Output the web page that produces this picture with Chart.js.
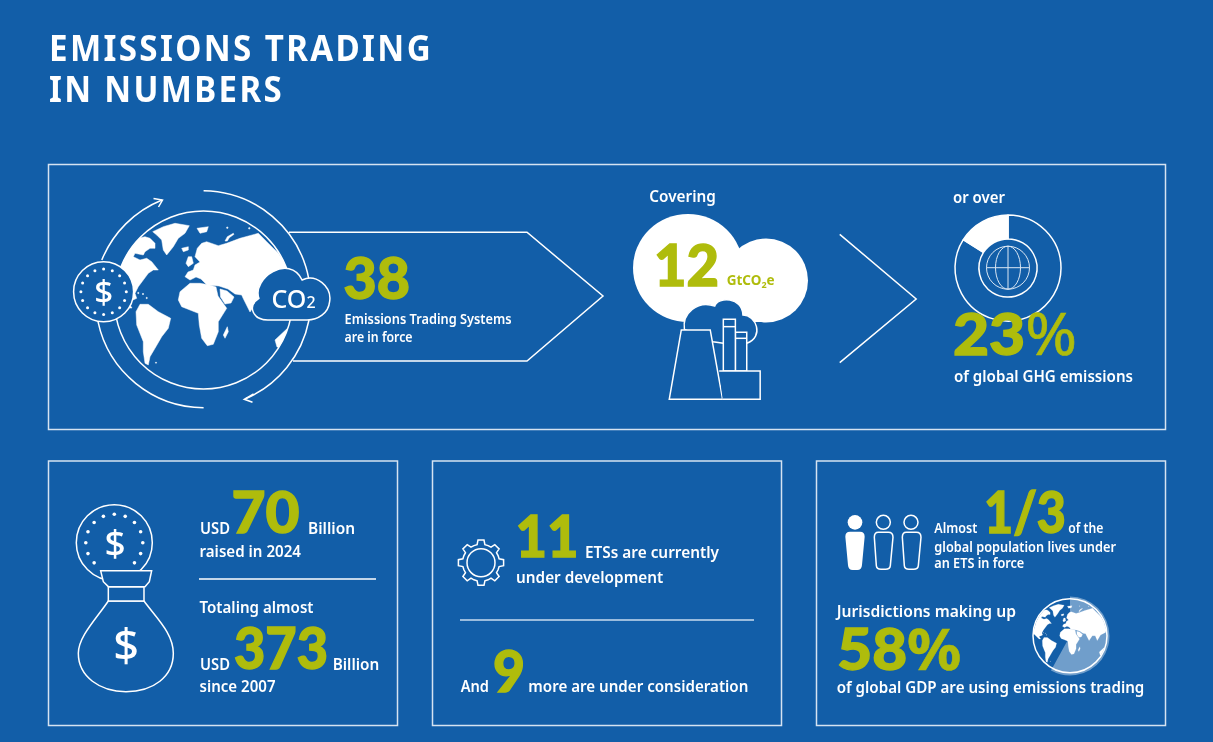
<!DOCTYPE html>
<html>
<head>
<meta charset="utf-8">
<title>Emissions trading in numbers</title>
<script src="https://cdn.jsdelivr.net/npm/chart.js@4"></script>
<style>
html, body { margin: 0; padding: 0; background: #125ea8; overflow: hidden; }
#page { position: relative; width: 1213px; height: 742px; }
canvas { position: absolute; }
#art { position: absolute; left: 0; top: 0; }
.ln { fill: none; stroke: #fff; stroke-width: 1.5; vector-effect: non-scaling-stroke; }
.bg { fill: #125ea8; stroke: #fff; stroke-width: 1.5; vector-effect: non-scaling-stroke; }
.box { fill: none; stroke: #d5e3f1; stroke-width: 1.5; }
</style>
</head>
<body>
<div id="page">
<canvas id="ringChart" width="120" height="120" style="left:948px;top:208px"></canvas>
<canvas id="gdpChart" width="90" height="90" style="left:1025px;top:591px"></canvas>
<svg id="art" width="1213" height="742" xmlns="http://www.w3.org/2000/svg">
  <defs>
    <clipPath id="bigClip"><circle cx="203.5" cy="300" r="89"/></clipPath>
    <clipPath id="smallClip"><circle cx="1070" cy="635.7" r="36.5"/></clipPath>
    <g id="worldMap" fill="#fff" stroke="#fff" stroke-width=".5" stroke-linejoin="round">
      <path d="M152.7,231.7 L163.3,226.7 L175,223.3 L189.3,225.7 L185,233.3 L178.3,238.3 L173.3,246.7 L166.7,255 L163.3,250 L161.7,240 L156.7,235 Z"/>
      <path d="M120,263.3 L126.7,251.7 L135,241.7 L138.3,238.3 L145,236.7 L150,238.3 L155,243.3 L155,248.3 L150,248.3 L145,251.7 L143.3,255 L135,253.3 L133.3,256.7 L140,260 L146.7,258.3 L151.7,261.7 L158.3,270 L153.3,270 L148.3,273.3 L143.3,280 L138.3,286.7 L135,293.3 L136.7,298.3 L133,300 L128,302 L132,308 L128,308 L120,300 L110,290 L106,275 L112,262 Z"/>
      <path d="M136,311.7 L140,304.3 L148.3,304.3 L158.3,311.7 L170.7,318.3 L168.3,328.3 L161.7,336.7 L155,348.3 L150,356.7 L148.3,365 L145,363.3 L143.3,351.7 L143.3,341.7 L136.7,325 Z"/>
      <path d="M180,291.7 L190,283.3 L200,283.3 L210,285 L216,287 L218,296 L226.7,308.3 L218.3,321.7 L218.3,331.7 L213.3,344.3 L207.3,345.7 L201.7,338.3 L199.3,325 L198.3,313.3 L190,310 L181.7,306.7 L178.3,300 Z"/>
      <path d="M185,276.7 L188,272 L193.3,270 L195,265 L200,262 L195,256.7 L197.3,248.3 L201.7,243.3 L206.7,241.7 L218.3,245.7 L226.7,243.3 L240,238.3 L258.3,233.3 L266.7,241.7 L278.3,253.3 L286.7,265 L294,280 L290,292 L278,298 L270,312 L265,300 L258,300 L250,312 L243,298 L241.7,295 L235,294 L228,289 L219,286 L207,285 L201,279 L196,277 L190,280 Z"/>
      <path d="M220,289 L227,291 L234,297 L231,303 L225,304 L220.5,297 Z"/>
      <path d="M223.3,335 L227.3,326.7 L228.3,331.7 L225,338.3 Z"/>
      <path d="M275,340 L287.5,328.3 L300,327 L305,340 L293,350 L277,347 Z"/>
      <path d="M188.3,256.7 L191.7,256.7 L193.3,263.3 L188.3,266.7 L186,263.3 Z"/>
      <path d="M181.7,248.3 L188.3,246.7 L188.3,250 L183.3,251.7 Z"/>
      <path d="M197,228.3 L208.3,226.7 L206.7,231.7 L200,233.3 Z"/>
      <path d="M225,241 L227.3,236.7 L233.3,233.3 L234,234.3 L229.3,237.7 L227.3,241 Z"/>
      <circle cx="227.3" cy="227.7" r=".8"/><circle cx="249.3" cy="228.3" r=".8"/>
      <circle cx="138.3" cy="293" r=".7"/><circle cx="143" cy="294" r=".7"/><circle cx="146.7" cy="298" r=".7"/>
      <circle cx="156" cy="362.7" r=".6"/>
    </g>
  </defs>

  <rect class="box" x="48.5" y="164.5" width="1117" height="265"/>
  <rect class="box" x="48.5" y="461" width="349" height="264.5"/>
  <rect class="box" x="432.5" y="461" width="349" height="264.5"/>
  <rect class="box" x="816.5" y="461" width="349" height="264.5"/>

  <!-- globe with arrows -->
  <polyline class="ln" points="289,232.3 527,232.3 603,296 527,361 293,361"/>
  <g clip-path="url(#bigClip)"><use href="#worldMap"/></g>
  <circle class="ln" cx="203.5" cy="300" r="89"/>
  <path class="ln" d="M101.8,260 A108.5,108.5 0 0 1 162,200"/>
  <polyline class="ln" points="153.5,198.5 162.5,200 158.5,207"/>
  <path class="ln" d="M203.6,190.7 A108.5,108.5 0 0 1 309,280"/>
  <path class="ln" d="M309,320 A108.5,108.5 0 0 1 245,399"/>
  <polyline class="ln" points="253.6,394 244.3,399.3 252.5,402.3"/>
  <path class="ln" d="M98,321.7 A108.5,108.5 0 0 0 203.6,407.7"/>
  <circle class="bg" cx="103.6" cy="291.7" r="30"/>
  <g id="bigCoinDots" fill="#fff"></g>
  <g transform="translate(50,170) scale(.3571,.3333)">
    <path class="bg" d="M610,450 C570,450 550,410 585,385 C565,325 670,250 706,330 C745,310 790,350 783,395 C780,430 750,450 720,450 Z"/>
  </g>

  <!-- cloud and power plant -->
  <g fill="#fff">
    <ellipse cx="688" cy="268" rx="55" ry="54"/>
    <circle cx="766" cy="280.5" r="42"/>
    <rect x="688" y="262" width="78" height="60"/>
  </g>
  <g transform="translate(620,170) scale(.3444,.3333)">
    <path class="bg" d="M187,478 C180,430 225,390 275,408 C285,380 355,380 357,435 C395,435 420,500 368,520 L300,520 L270,515 Z"/>
    <path class="bg" d="M143,688 L178,480 L262,480 L298,688 Z"/>
    <rect class="bg" x="335" y="487" width="33" height="116"/>
    <line class="ln" x1="335" y1="505" x2="368" y2="505"/>
    <rect class="bg" x="300" y="448" width="35" height="155"/>
    <line class="ln" x1="300" y1="470" x2="335" y2="470"/>
    <polyline class="bg" points="288,603 407,603 407,688 298,688"/>
    <polyline class="ln" points="638,193 860,387 638,578"/>
  </g>
  <g fill="none" stroke="#dbe7f3" stroke-width="1">
    <circle cx="1008" cy="267.7" r="21.5"/>
    <ellipse cx="1008" cy="267.7" rx="12.5" ry="21.5"/>
    <line x1="986.5" y1="267.7" x2="1029.5" y2="267.7"/>
    <line x1="1008" y1="246.2" x2="1008" y2="289.2"/>
  </g>

  <!-- coin and money bag -->
  <circle class="ln" cx="114.3" cy="542.7" r="38"/>
  <g id="bagCoinDots" fill="#fff"></g>
  <g transform="translate(50,470) scale(.3333)">
    <path class="bg" d="M175,393 C140,445 85,500 85,550 C85,620 150,665 228,665 C310,665 370,620 370,550 C370,490 320,445 282,393 Z"/>
    <rect class="bg" x="175" y="350" width="107" height="43"/>
    <path class="bg" d="M152,302 L305,302 L298,335 L285,350 L175,350 L160,335 Z"/>
  </g>
  <line class="ln" x1="199" y1="579" x2="376" y2="579"/>

  <!-- gear -->
  <path id="gear" class="ln"/>
  <circle class="ln" cx="481" cy="562.7" r="14"/>
  <line x1="460" y1="620" x2="754" y2="620" stroke="#c9dcef" stroke-width="1.5"/>

  <!-- people -->
  <g transform="translate(820,470) scale(.3333)">
    <circle cx="105" cy="157" r="22" fill="#fff"/>
    <path fill="#fff" d="M90,185 H120 Q134,185 134,200 L126,285 Q125,300 112,300 H98 Q85,300 84,285 L76,200 Q76,185 90,185 Z"/>
    <circle class="ln" cx="190" cy="157" r="21"/>
    <path class="ln" transform="translate(85,2)" d="M90,185 H120 Q134,185 134,200 L126,285 Q125,296 112,296 H98 Q85,296 84,285 L78,200 Q78,185 90,185 Z"/>
    <circle class="ln" cx="273" cy="157" r="21"/>
    <path class="ln" transform="translate(169,2)" d="M90,185 H120 Q134,185 134,200 L126,285 Q125,296 112,296 H98 Q85,296 84,285 L78,200 Q78,185 90,185 Z"/>
  </g>

  <!-- GDP globe -->
  <g clip-path="url(#smallClip)">
    <g transform="translate(1070,635.7) scale(.41) translate(-203.5,-300)"><use href="#worldMap"/></g>
  </g>
  <circle class="ln" cx="1070" cy="635.7" r="37"/>
</svg>
</div>

<script>
// 数据
const ringLabels = ['Rest of the ring', 'Filled slice'];
const ringShares = [84, 16];   // as drawn in the picture, narrower than the printed 23%
const gdpLabels = ['Using emissions trading', 'Rest of global GDP'];
const gdpShares = [58, 42];
const headlineFigures = ['38', '12', '23', '70', '373', '11', '9', '1/3', '58'];
const titleLines = ['EMISSIONS TRADING', 'IN NUMBERS'];
const topCaptions = ['Emissions Trading Systems', 'are in force', 'Covering', 'or over', 'of global GHG emissions'];
const moneyCaptions = ['USD', 'Billion', 'raised in 2024', 'Totaling almost', 'since 2007'];
const pipelineCaptions = ['ETSs are currently', 'under development', 'And', 'more are under consideration'];
const coverageCaptions = ['Almost', 'of the', 'global population lives under', 'an ETS in force', 'Jurisdictions making up', 'of global GDP are using emissions trading'];

const BODY_FONT = '"Noto Sans", sans-serif';
const BIG_FONT = 'Lato, "Noto Sans", sans-serif';
const GREEN = '#afbc0c';
const SVG_NS = 'http://www.w3.org/2000/svg';
const art = document.getElementById('art');

// 文字工具
function put(text, x, y, size, width, opts = {}) {
    const el = document.createElementNS(SVG_NS, 'text');
    el.setAttribute('x', x);
    el.setAttribute('y', y);
    el.setAttribute('font-family', opts.font || BODY_FONT);
    el.setAttribute('font-size', size);
    el.setAttribute('font-weight', opts.weight || 600);
    el.setAttribute('fill', opts.fill || '#fff');
    if (opts.anchor) el.setAttribute('text-anchor', opts.anchor);
    if (opts.tracking) el.setAttribute('letter-spacing', opts.tracking);
    if (opts.stroke) {
        el.setAttribute('stroke', opts.fill || '#fff');
        el.setAttribute('stroke-width', opts.stroke);
    }
    [].concat(text).forEach(part => {
        if (typeof part === 'string') {
            el.appendChild(document.createTextNode(part));
        } else {
            const span = document.createElementNS(SVG_NS, 'tspan');
            span.textContent = part.t;
            if (part.weight) span.setAttribute('font-weight', part.weight);
            if (part.size) span.setAttribute('font-size', part.size);
            if (part.font) span.setAttribute('font-family', part.font);
            if (part.dy) span.setAttribute('dy', part.dy);
            if (part.stroke !== undefined) span.setAttribute('stroke-width', part.stroke);
            el.appendChild(span);
        }
    });
    if (width) {
        el.setAttribute('textLength', width);
        el.setAttribute('lengthAdjust', 'spacingAndGlyphs');
    }
    art.appendChild(el);
}

const BIG = { font: BIG_FONT, weight: 900, fill: GREEN, stroke: 1.4 };

function big(text, x, y, width) {
    put(text, x, y - 0.7, 58, width, BIG);
}

function dots(id, cx, cy, r, count, size, skip = []) {
    const g = document.getElementById(id);
    for (let i = 0; i < count; i++) {
        if (skip.includes(i)) continue;
        const a = i / count * Math.PI * 2 - Math.PI / 2;
        const c = document.createElementNS(SVG_NS, 'circle');
        c.setAttribute('cx', cx + r * Math.cos(a));
        c.setAttribute('cy', cy + r * Math.sin(a));
        c.setAttribute('r', size);
        g.appendChild(c);
    }
}

function drawGear(cx, cy, rOut, rIn, teeth) {
    let d = '';
    const step = Math.PI * 2 / teeth;
    for (let i = 0; i < teeth; i++) {
        const a = i * step - Math.PI / 2;
        const pts = [[rIn, a - step * .5], [rIn, a - step * .27], [rOut, a - step * .17], [rOut, a + step * .17], [rIn, a + step * .27]];
        pts.forEach(([r, t], j) => {
            d += (i === 0 && j === 0 ? 'M' : 'L') + (cx + r * Math.cos(t)).toFixed(1) + ',' + (cy + r * Math.sin(t)).toFixed(1) + ' ';
        });
    }
    document.getElementById('gear').setAttribute('d', d + 'Z');
}

// 图表
function renderRing() {
    new Chart(document.getElementById('ringChart'), {
        type: 'doughnut',
        data: {
            labels: ringLabels,
            datasets: [{
                data: ringShares,
                backgroundColor: ['rgba(0,0,0,0)', '#ffffff'],
                borderColor: '#ffffff',
                borderWidth: 1.5
            }]
        },
        options: {
            responsive: false,
            animation: false,
            radius: 53,
            cutout: 32.5,
            plugins: { legend: { display: false }, tooltip: { enabled: false } }
        }
    });
}

function renderGdpPie() {
    new Chart(document.getElementById('gdpChart'), {
        type: 'pie',
        data: {
            labels: gdpLabels,
            datasets: [{
                data: gdpShares,
                backgroundColor: ['rgba(255,255,255,0.4)', 'rgba(0,0,0,0)'],
                borderWidth: 0
            }]
        },
        options: {
            responsive: false,
            animation: false,
            radius: 39.5,
            plugins: { legend: { display: false }, tooltip: { enabled: false } }
        }
    });
}

function renderText() {
    // title
    put(titleLines[0], 49, 61, 35, 384, { weight: 700, tracking: 2.5 });
    put(titleLines[1], 49, 102, 35, 235, { weight: 700, tracking: 2.5 });

    // top box
    put('$', 103.6, 303.5, 33, 0, { weight: 500, anchor: 'middle' });
    put(['CO', { t: '2', size: 16 }], 271.4, 308, 25, 0, { weight: 500 });
    big(headlineFigures[0], 343.5, 299.5, 66.5);
    put(topCaptions[0], 344.6, 324, 13.5, 167);
    put(topCaptions[1], 344.6, 341.7, 13.5, 68);
    put(topCaptions[2], 649.3, 201.7, 16, 66.5);
    big(headlineFigures[1], 654, 286.7, 65);
    put(['GtCO', { t: '2', size: 9, dy: 3 }, { t: 'e', dy: -3 }], 726.7, 285, 13.5, 0, { fill: GREEN, weight: 700 });
    put(topCaptions[3], 953, 203.3, 15.5, 52);
    put([headlineFigures[2], { t: '%', weight: 400, font: BODY_FONT, stroke: 0.6 }], 953, 355.3, 58, 124, BIG);
    put(topCaptions[4], 954, 381.7, 15.5, 179);

    // left box
    put('$', 115, 555.5, 37, 0, { weight: 500, anchor: 'middle' });
    put('$', 126, 661, 45, 0, { weight: 500, anchor: 'middle' });
    put(moneyCaptions[0], 200, 534.3, 16, 30);
    big(headlineFigures[3], 231.5, 534, 68);
    put(moneyCaptions[1], 308, 534.3, 16, 47);
    put(moneyCaptions[2], 199.5, 556.7, 16, 101.5);
    put(moneyCaptions[3], 199.5, 613.3, 16, 114);
    put(moneyCaptions[0], 200, 670, 16, 30);
    big(headlineFigures[4], 234, 670, 94);
    put(moneyCaptions[1], 332.7, 670, 16, 46.6);
    put(moneyCaptions[4], 199.5, 691.7, 16, 76);

    // middle box
    big(headlineFigures[5], 515.5, 558, 63);
    put(pipelineCaptions[0], 585, 558.3, 16, 134);
    put(pipelineCaptions[1], 516, 582.7, 16, 147.3);
    put(pipelineCaptions[2], 460.7, 692.3, 16, 28.3);
    big(headlineFigures[6], 493, 693, 32);
    put(pipelineCaptions[3], 528.3, 692.3, 16, 220);

    // right box
    put(coverageCaptions[0], 934.3, 533.3, 13.5, 43);
    big(headlineFigures[7], 984, 534, 82);
    put(coverageCaptions[1], 1068.3, 533.3, 13.5, 35);
    put(coverageCaptions[2], 934.3, 551.7, 13.5, 181.7);
    put(coverageCaptions[3], 934.3, 568.3, 13.5, 90);
    put(coverageCaptions[4], 836.7, 617, 16, 179.3);
    put([headlineFigures[8], { t: '%', weight: 700, font: BODY_FONT, stroke: 0.6 }], 837.3, 669.8, 58, 124, BIG);
    put(coverageCaptions[5], 836.7, 692.7, 16, 307.6);
}

dots('bigCoinDots', 103.6, 291.7, 22.7, 16, 1.5);
dots('bagCoinDots', 114.3, 542.7, 28.5, 16, 1.8, [7, 8, 9]);
drawGear(481, 562.7, 22.8, 18.5, 8);
renderRing();
renderGdpPie();
renderText();
</script>
</body>
</html>
